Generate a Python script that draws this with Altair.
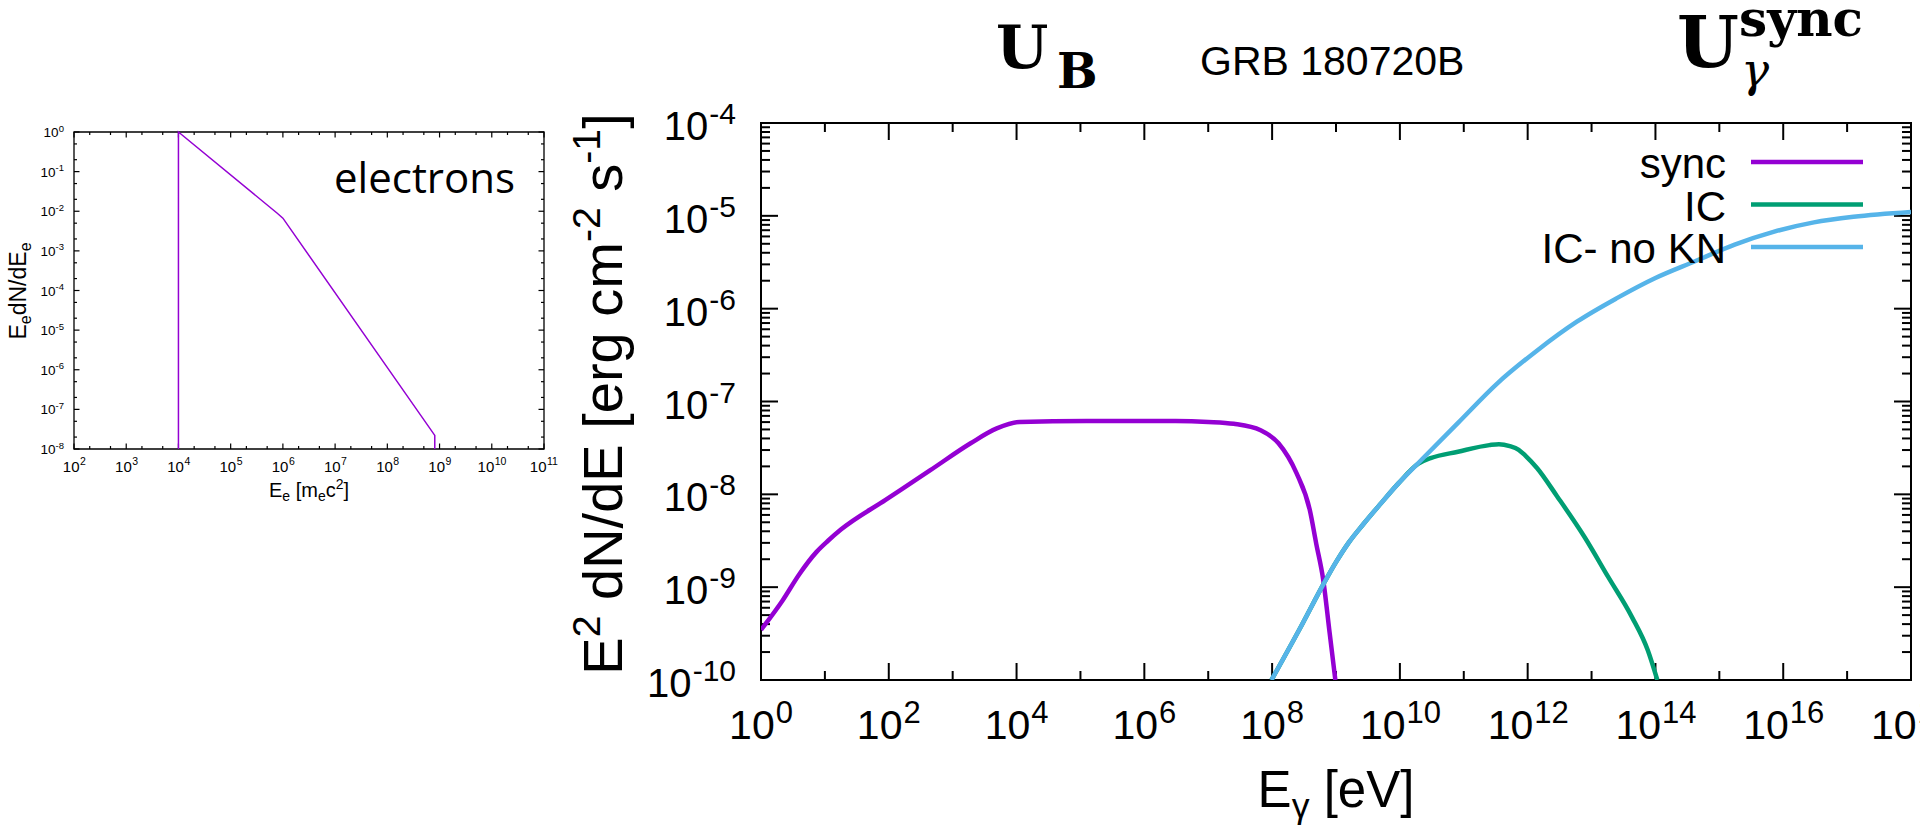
import altair as alt
import pandas as pd

# ---------------- data ----------------
# photon spectrum E^2 dN/dE [erg cm^-2 s^-1] against photon energy E [eV]
sync_E = [1.0e0, 2.19e0, 3.98e0, 7.41e0, 1.12e1, 1.78e1, 8.91e1, 4.47e2, 1.91e3, 4.90e3,
          1.12e4, 1.23e5, 3.09e6, 1.0e7, 2.51e7, 6.61e7, 1.26e8, 2.40e8, 3.89e8, 4.90e8,
          6.31e8, 7.94e8, 9.77e8]
sync_F = [3.47e-10, 7.24e-10, 1.38e-9, 2.40e-9, 3.16e-9, 4.17e-9, 8.71e-9, 1.82e-8, 3.55e-8, 5.13e-8,
          6.03e-8, 6.17e-8, 6.17e-8, 6.03e-8, 5.75e-8, 4.90e-8, 3.55e-8, 1.70e-8, 6.76e-9, 2.95e-9,
          1.20e-9, 3.24e-10, 1.0e-10]

ic_E = [9.77e7, 2.75e8, 6.46e8, 1.0e9, 1.58e9, 2.69e9, 5.01e9, 9.55e9, 1.95e10, 3.02e10,
        8.13e10, 2.51e11, 3.55e11, 5.25e11, 7.24e11, 9.12e11, 1.41e12, 2.88e12, 7.76e12, 1.82e13,
        4.27e13, 7.59e13, 1.07e14]
ic_F = [1.0e-10, 3.63e-10, 1.10e-9, 1.86e-9, 3.02e-9, 4.79e-9, 7.94e-9, 1.32e-8, 2.14e-8, 2.45e-8,
        2.88e-8, 3.39e-8, 3.47e-8, 3.31e-8, 3.02e-8, 2.63e-8, 1.91e-8, 9.55e-9, 3.47e-9, 1.29e-9,
        4.79e-10, 2.09e-10, 1.0e-10]

icnokn_E = [9.77e7, 2.75e8, 6.46e8, 1.0e9, 1.58e9, 2.69e9, 5.01e9, 9.55e9, 2.24e10, 8.13e10,
            3.39e11, 1.41e12, 5.89e12, 2.45e13, 1.0e14, 4.17e14, 1.74e15, 7.24e15, 3.02e16, 1.26e17,
            1.0e18]
icnokn_F = [1.0e-10, 3.63e-10, 1.10e-9, 1.86e-9, 3.02e-9, 4.79e-9, 7.94e-9, 1.32e-8, 2.40e-8, 5.89e-8,
            1.58e-7, 3.55e-7, 7.24e-7, 1.29e-6, 2.14e-6, 3.24e-6, 4.90e-6, 6.76e-6, 8.51e-6, 9.77e-6,
            1.10e-5]

series_names = ["sync", "IC", "IC- no KN"]
series_colors = ["#9400d3", "#009e73", "#56b4e9"]

# electron distribution E_e dN/dE_e against E_e [m_e c^2]
elec_E = [1.0e4, 1.0e4, 7.8e5, 1.0e6, 8.1e8, 8.1e8]
elec_N = [1.0e-8, 1.0, 8.9e-3, 6.7e-3, 2.2e-8, 1.0e-8]

# axis decades
main_x_exp = list(range(0, 19))
main_y_exp = list(range(-10, -3))
ins_x_exp = list(range(2, 12))
ins_y_exp = list(range(-8, 1))

# ---------------- geometry ----------------
W, H = 1150, 557          # main plot area
LEFT, TOP = 761, 123      # plot origin on the page
IX0, IX1 = 74 - LEFT, 544 - LEFT   # inset frame, in main-plot pixels
IY0, IY1 = 132 - TOP, 449 - TOP

SANS = "Liberation Sans"
SERIF = "DejaVu Serif"

x_main = alt.Scale(type="log", domain=[1, 1e18], nice=False)
y_main = alt.Scale(type="log", domain=[1e-10, 1e-4], nice=False)
x_ins = alt.Scale(type="log", domain=[1e2, 1e11], range=[IX0, IX1], nice=False)
y_ins = alt.Scale(type="log", domain=[1e-8, 1], range=[IY1, IY0], nice=False)

HELV = {' ': 278, '-': 333, '/': 278, '[': 278, ']': 278, 'B': 667, 'C': 722, 'E': 667,
        'G': 778, 'I': 278, 'K': 667, 'N': 722, 'R': 722, 'V': 667, 'c': 500, 'd': 556,
        'e': 556, 'g': 556, 'm': 833, 'n': 556, 'o': 556, 'r': 333, 's': 500, 'y': 500,
        'γ': 500}


def tw(s, fs):
    return sum(HELV.get(ch, 556) for ch in s) * fs / 1000.0


one = pd.DataFrame({"k": [0]})


def rich(pieces, fs, x, y, angle=0, font=SANS):
    """Centered text run with sub/superscript pieces."""
    size = {"n": fs, "sup": fs * 0.7, "sub": fs * 0.7}
    shift = {"n": 0, "sup": -0.4 * fs, "sub": 0.22 * fs}
    widths = [tw(t, size[k]) for t, k in pieces]
    off = -sum(widths) / 2
    out = []
    for (t, k), w in zip(pieces, widths):
        lead = len(t) - len(t.lstrip(" "))
        out.append(alt.Chart(one).mark_text(
            text=t.strip(), align="left", baseline="alphabetic", fontSize=size[k], font=font,
            dx=off + tw(" " * lead, size[k]), dy=shift[k], angle=angle, color="black").encode(x=x, y=y))
        off += w
    return out


def label(text, x, y, fs, font=SANS, align="left", **kw):
    return alt.Chart(one).mark_text(text=text, align=align, baseline="alphabetic", fontSize=fs,
                                    font=font, color="black", **kw).encode(
        x=alt.value(x - LEFT), y=alt.value(y - TOP))


layers = []

# ---------------- main plot ticks (inward, mirrored) ----------------
mx = pd.DataFrame({"v": [10.0 ** e for e in main_x_exp], "long": [e % 2 == 0 for e in main_x_exp]})
for is_long, L in [(True, 17), (False, 9)]:
    sub = alt.Chart(mx).transform_filter(alt.datum.long == is_long)
    for y0, y1 in [(H, H - L), (0, L)]:
        layers.append(sub.mark_rule(color="black", strokeWidth=2).encode(
            x=alt.X("v:Q", scale=x_main, axis=None), y=alt.value(y0), y2=alt.value(y1)))

my_major = pd.DataFrame({"v": [10.0 ** e for e in main_y_exp]})
my_minor = pd.DataFrame({"v": [k * 10.0 ** e for e in main_y_exp[:-1] for k in range(2, 10)]})
for df, L in [(my_major, 17), (my_minor, 9)]:
    for x0, x1 in [(0, L), (W, W - L)]:
        layers.append(alt.Chart(df).mark_rule(color="black", strokeWidth=2).encode(
            y=alt.Y("v:Q", scale=y_main, axis=None), x=alt.value(x0), x2=alt.value(x1)))

# ---------------- main tick labels ----------------
xl = pd.DataFrame({"v": [10.0 ** e for e in main_x_exp if e % 2 == 0],
                   "exp": [str(e) for e in main_x_exp if e % 2 == 0]})
for nchar, bdx in [(1, 13.7), (2, 5.6)]:
    sub = alt.Chart(xl).transform_filter(f"length(datum.exp) == {nchar}")
    layers.append(sub.mark_text(text="10", align="right", baseline="alphabetic", fontSize=41,
                                font=SANS, dx=bdx, color="black").encode(
        x=alt.X("v:Q", scale=x_main, axis=None), y=alt.value(H + 59)))
    layers.append(sub.mark_text(align="left", baseline="alphabetic", fontSize=31,
                                font=SANS, dx=bdx + 1, color="black").encode(
        x=alt.X("v:Q", scale=x_main, axis=None), y=alt.value(H + 43), text="exp:N"))

yl = pd.DataFrame({"v": [10.0 ** e for e in main_y_exp], "exp": [str(e) for e in main_y_exp]})
for nchar, ew in [(2, 26.7), (3, 43.4)]:
    sub = alt.Chart(yl).transform_filter(f"length(datum.exp) == {nchar}")
    layers.append(sub.mark_text(align="right", baseline="alphabetic", fontSize=30,
                                font=SANS, dy=1, color="black").encode(
        y=alt.Y("v:Q", scale=y_main, axis=None), x=alt.value(-25), text="exp:N"))
    layers.append(sub.mark_text(text="10", align="right", baseline="alphabetic", fontSize=40,
                                font=SANS, dy=17, color="black").encode(
        y=alt.Y("v:Q", scale=y_main, axis=None), x=alt.value(-25 - ew - 1)))

# ---------------- main curves ----------------
curves = [(sync_E, sync_F), (ic_E, ic_F), (icnokn_E, icnokn_F)]
for (E, F), name, col in zip(curves, series_names, series_colors):
    df = pd.DataFrame({"E": E, "F": F, "i": range(len(E))})
    layers.append(alt.Chart(df).mark_line(color=col, strokeWidth=4.5, clip=True,
                                          interpolate="monotone").encode(
        x=alt.X("E:Q", scale=x_main, axis=None),
        y=alt.Y("F:Q", scale=y_main, axis=None),
        order="i:Q"))

# ---------------- legend ----------------
for r, (name, col) in enumerate(zip(series_names, series_colors)):
    ly = 162 - TOP + r * 42.5
    layers.append(alt.Chart(one).mark_rule(color=col, strokeWidth=4.5).encode(
        x=alt.value(1751 - LEFT), x2=alt.value(1863 - LEFT), y=alt.value(ly)))
    layers.append(alt.Chart(one).mark_text(text=name, align="right", baseline="alphabetic",
                                           fontSize=42, font=SANS, color="black").encode(
        x=alt.value(1726 - LEFT), y=alt.value(ly + 16)))

# ---------------- main titles ----------------
layers += rich([("E", "n"), ("γ", "sub"), (" [eV]", "n")], 51, alt.value(W / 2), alt.value(684))
layers += rich([("E", "n"), ("2", "sup"), (" dN/dE [erg cm", "n"), ("-2", "sup"), (" s", "n"),
                ("-1", "sup"), ("]", "n")], 56, alt.value(622 - LEFT), alt.value(271), angle=270)

layers.append(label("GRB 180720B", 1200, 75, 41))

# U_B
layers.append(label("U", 996, 68, 60, font=SERIF, fontWeight="bold"))
layers.append(label("B", 1057, 88, 48, font=SERIF, fontWeight="bold"))
# U_gamma^sync
layers.append(label("U", 1677, 67, 71, font=SERIF, fontWeight="bold"))
layers.append(label("sync", 1739, 36, 50, font=SERIF, fontWeight="bold"))
layers.append(label("γ", 1741, 86, 47, font=SERIF, fontStyle="italic"))

# ---------------- inset: electron distribution ----------------
frame = pd.DataFrame({"x0": [1e2], "x1": [1e11], "y0": [1e-8], "y1": [1.0]})
layers.append(alt.Chart(frame).mark_rect(fillOpacity=0, stroke="black", strokeWidth=1.3).encode(
    x=alt.X("x0:Q", scale=x_ins, axis=None), x2="x1:Q",
    y=alt.Y("y0:Q", scale=y_ins, axis=None), y2="y1:Q"))

ix_major = pd.DataFrame({"v": [10.0 ** e for e in ins_x_exp]})
ix_minor = pd.DataFrame({"v": [k * 10.0 ** e for e in ins_x_exp[:-1] for k in (2, 5)]})
for df, L in [(ix_major, 5.5), (ix_minor, 3)]:
    for y0, y1 in [(IY1, IY1 - L), (IY0, IY0 + L)]:
        layers.append(alt.Chart(df).mark_rule(color="black", strokeWidth=1.2).encode(
            x=alt.X("v:Q", scale=x_ins, axis=None), y=alt.value(y0), y2=alt.value(y1)))
iy_major = pd.DataFrame({"v": [10.0 ** e for e in ins_y_exp]})
iy_minor = pd.DataFrame({"v": [k * 10.0 ** e for e in ins_y_exp[:-1] for k in (2, 5)]})
for df, L in [(iy_major, 5.5), (iy_minor, 3)]:
    for x0, x1 in [(IX0, IX0 + L), (IX1, IX1 - L)]:
        layers.append(alt.Chart(df).mark_rule(color="black", strokeWidth=1.2).encode(
            y=alt.Y("v:Q", scale=y_ins, axis=None), x=alt.value(x0), x2=alt.value(x1)))

ixl = pd.DataFrame({"v": [10.0 ** e for e in ins_x_exp], "exp": [str(e) for e in ins_x_exp]})
for nchar, bdx in [(1, 5.5), (2, 2.5)]:
    sub = alt.Chart(ixl).transform_filter(f"length(datum.exp) == {nchar}")
    layers.append(sub.mark_text(text="10", align="right", baseline="alphabetic", fontSize=15,
                                font=SANS, dx=bdx, color="black").encode(
        x=alt.X("v:Q", scale=x_ins, axis=None), y=alt.value(IY1 + 23)))
    layers.append(sub.mark_text(align="left", baseline="alphabetic", fontSize=10.5,
                                font=SANS, dx=bdx + 0.5, color="black").encode(
        x=alt.X("v:Q", scale=x_ins, axis=None), y=alt.value(IY1 + 16), text="exp:N"))

iyl = pd.DataFrame({"v": [10.0 ** e for e in ins_y_exp], "exp": [str(e) for e in ins_y_exp]})
for nchar, ew in [(1, 5.0), (2, 8.0)]:
    sub = alt.Chart(iyl).transform_filter(f"length(datum.exp) == {nchar}")
    layers.append(sub.mark_text(align="right", baseline="alphabetic", fontSize=9.5,
                                font=SANS, dy=-0.5, color="black").encode(
        y=alt.Y("v:Q", scale=y_ins, axis=None), x=alt.value(IX0 - 10), text="exp:N"))
    layers.append(sub.mark_text(text="10", align="right", baseline="alphabetic", fontSize=13.5,
                                font=SANS, dy=5, color="black").encode(
        y=alt.Y("v:Q", scale=y_ins, axis=None), x=alt.value(IX0 - 10 - ew - 0.5)))

elec = pd.DataFrame({"E": elec_E, "N": elec_N, "i": range(len(elec_E))})
layers.append(alt.Chart(elec).mark_line(color="#9400d3", strokeWidth=1.5).encode(
    x=alt.X("E:Q", scale=x_ins, axis=None), y=alt.Y("N:Q", scale=y_ins, axis=None), order="i:Q"))

layers.append(label("electrons", 334, 193, 42, font="Open Sans"))

layers += rich([("E", "n"), ("e", "sub"), (" [m", "n"), ("e", "sub"), ("c", "n"), ("2", "sup"),
                ("]", "n")], 20, alt.value((IX0 + IX1) / 2), alt.value(497 - TOP))
layers += rich([("E", "n"), ("e", "sub"), ("dN/dE", "n"), ("e", "sub")], 23,
               alt.value(26 - LEFT), alt.value(291 - TOP), angle=270)

chart = alt.layer(*layers).resolve_scale(x="independent", y="independent").properties(
    width=W, height=H,
    autosize=alt.AutoSizeParams(type="none"),
    padding={"left": LEFT, "top": TOP, "right": 1920 - LEFT - W, "bottom": 826 - TOP - H},
    background="white",
).configure_view(stroke="black", strokeWidth=2)

chart.save("out.html", embed_options={"renderer": "svg", "actions": False})
